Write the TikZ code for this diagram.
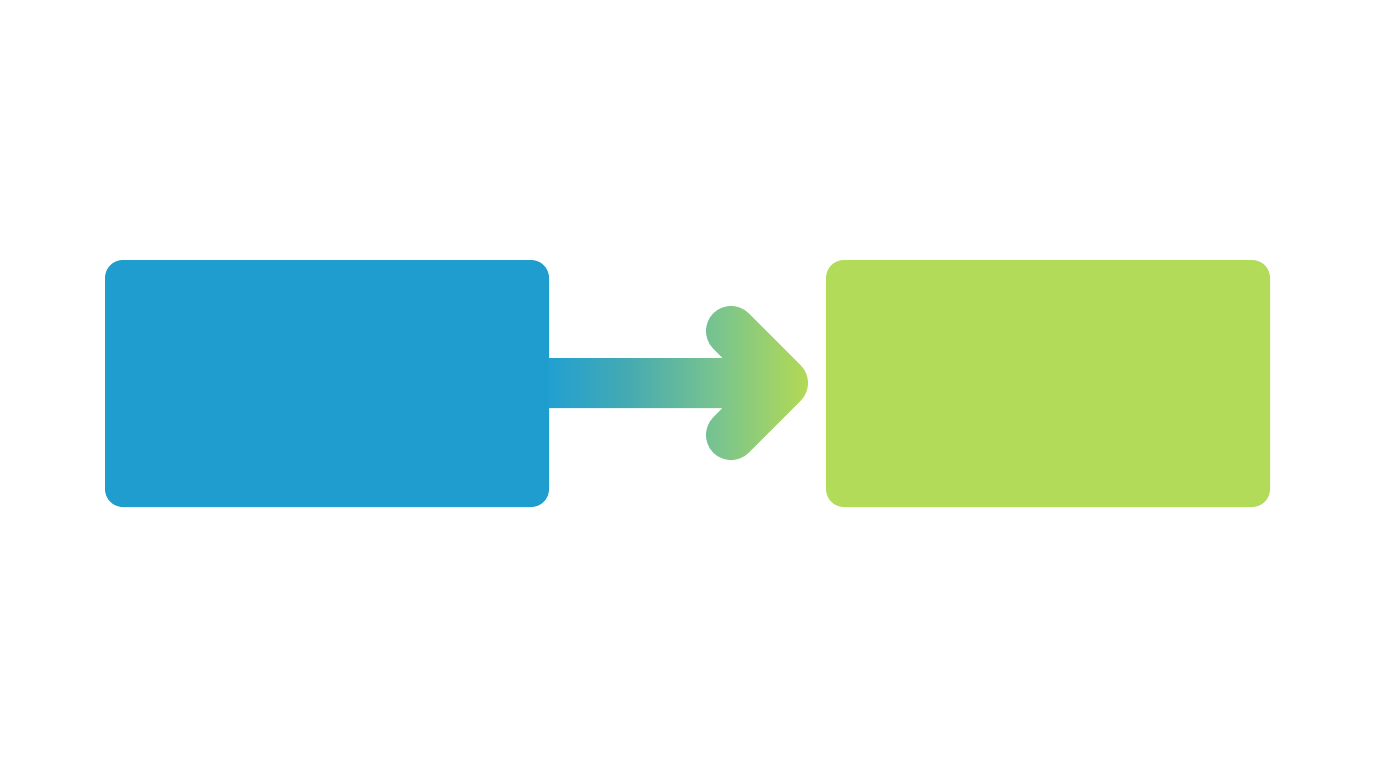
\documentclass[tikz,border=0pt]{standalone}
\usetikzlibrary{calc}
\definecolor{boxblue}{HTML}{209DCF}
\definecolor{boxgreen}{HTML}{B3DB5A}
\definecolor{ca}{HTML}{22A0D0}
\definecolor{cb}{HTML}{45AAB2}
\definecolor{cc}{HTML}{7CC58C}
\definecolor{cd}{HTML}{B5DA52}
\pgfdeclarehorizontalshading{arrowshade}{100bp}{color(0bp)=(ca); color(25bp)=(ca); color(40bp)=(cb); color(58bp)=(cc); color(75bp)=(cd); color(100bp)=(cd)}
\tikzset{
  box/.style={rectangle, rounded corners=18pt, inner sep=0pt, minimum width=444pt, minimum height=247pt, draw=none},
}
\begin{document}
\begin{tikzpicture}[x=1pt,y=-1pt]
\fill[white] (0,0) rectangle (1376,768);
\useasboundingbox (0,0) rectangle (1376,768);
\node[box, fill=boxblue] (blue) at (327,383.5) {};
\node[box, fill=boxgreen] (green) at (1048,383.5) {};
\shade[shading=arrowshade]
  (blue.east |- 0,358) -- (722.64,358) -- (713.32,348.68)
  arc[start angle=135, end angle=315, radius=25]
  -- (800.68,365.32)
  arc[start angle=-45, end angle=45, radius=25]
  -- (748.68,452.68)
  arc[start angle=45, end angle=225, radius=25]
  -- (722.64,408) -- (blue.east |- 0,408) -- cycle;
\end{tikzpicture}
\end{document}
